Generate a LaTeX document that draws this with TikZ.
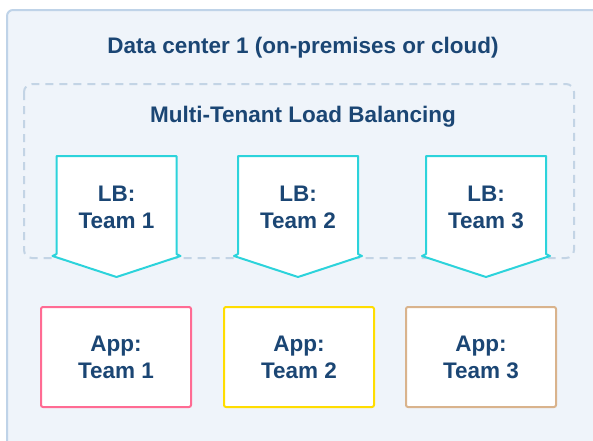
\documentclass[tikz,border=0pt]{standalone}
\usepackage{fontspec}
\setmainfont{Liberation Sans}

\definecolor{txtblue}{HTML}{1B4674}
\definecolor{bgblue}{HTML}{EFF4FA}
\definecolor{frameblue}{HTML}{BFD3E8}
\definecolor{dashblue}{HTML}{C3D4E5}
\definecolor{lbcyan}{HTML}{2CD3DB}
\definecolor{apppink}{HTML}{FF6B93}
\definecolor{appyellow}{HTML}{FFDD00}
\definecolor{apptan}{HTML}{D9B38C}

\tikzset{
  label/.style={font=\bfseries\fontsize{22.5}{27}\selectfont, text=txtblue, align=center},
  lbline/.style={draw=lbcyan, line width=2pt, fill=white, line join=round},
  appbox/.style={label, draw, line width=2pt, fill=white, rounded corners=2pt,
    minimum width=150pt, minimum height=100pt, inner sep=0pt}
}

\begin{document}
\begin{tikzpicture}[x=1pt,y=-1pt]
\useasboundingbox (0,0) rectangle (593,440);
% outer frame and tenant area
\draw[frameblue, line width=2pt, fill=bgblue, rounded corners=6pt] (7,10) rectangle (640,480);
\draw[dashblue, line width=2pt, dash pattern=on 8pt off 6pt, rounded corners=8pt] (24,84) rectangle (574,258);
\node[label] (title) at (303,48) {Data center 1 (on-premises or cloud)};
\node[label] (mtlb) at (303,117) {Multi-Tenant Load Balancing};
% load balancers
\foreach \c/\n in {116.5/1, 298/2, 486/3} {
  \draw[lbline] (\c-60,156) -- (\c+60,156) -- (\c+60,254) -- (\c+64,256)
    -- (\c,277) -- (\c-64,256) -- (\c-60,254) -- cycle;
  \node[label] (lb\n) at (\c,207) {LB:\\Team \n};
}
% applications
\node[appbox, draw=apppink] (app1) at (116,357) {App:\\Team 1};
\node[appbox, draw=appyellow] (app2) at (299,357) {App:\\Team 2};
\node[appbox, draw=apptan] (app3) at (481,357) {App:\\Team 3};
\end{tikzpicture}
\end{document}
